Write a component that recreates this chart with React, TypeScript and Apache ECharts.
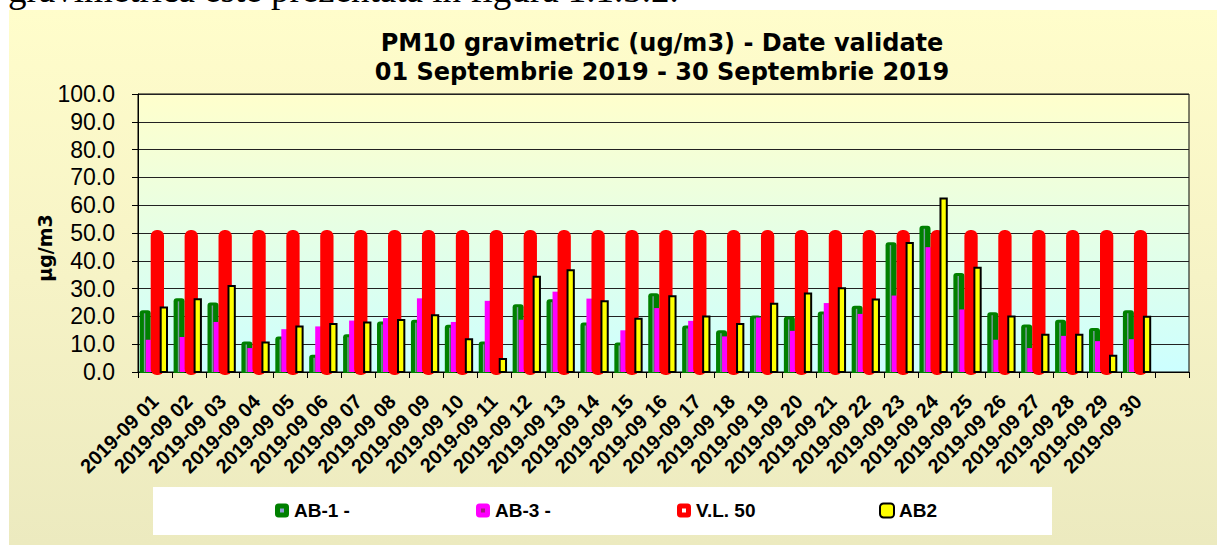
import React, { useEffect, useRef } from "react";
import * as echarts from "echarts";

const categories = [
  "2019-09 01", "2019-09 02", "2019-09 03", "2019-09 04", "2019-09 05",
  "2019-09 06", "2019-09 07", "2019-09 08", "2019-09 09", "2019-09 10",
  "2019-09 11", "2019-09 12", "2019-09 13", "2019-09 14", "2019-09 15",
  "2019-09 16", "2019-09 17", "2019-09 18", "2019-09 19", "2019-09 20",
  "2019-09 21", "2019-09 22", "2019-09 23", "2019-09 24", "2019-09 25",
  "2019-09 26", "2019-09 27", "2019-09 28", "2019-09 29", "2019-09 30",
  "",
];

const ab1 = [22.2, 26.5, 25.0, 11.0, 12.8, 6.2, 13.6, 18.2, 18.8, 17.0, 11.0, 24.4, 26.2, 17.8, 10.6, 28.3, 16.7, 15.0, 20.3, 20.0, 21.8, 23.8, 46.7, 52.6, 35.6, 21.5, 17.1, 18.8, 15.8, 22.2];
const ab3 = [11.6, 12.6, 18.0, 8.6, 15.4, 16.4, 18.5, 19.4, 26.5, 18.0, 25.6, 18.8, 28.9, 26.4, 15.0, 23.0, 18.4, 12.8, 19.6, 14.8, 24.8, 20.9, 27.5, 44.9, 22.5, 11.6, 8.6, 13.0, 11.1, 11.8];
const vl50 = [50, 50, 50, 50, 50, 50, 50, 50, 50, 50, 50, 50, 50, 50, 50, 50, 50, 50, 50, 50, 50, 50, 50, 50, 50, 50, 50, 50, 50, 50];
const ab2 = [23.6, 26.5, 31.3, 11.0, 16.7, 17.6, 18.2, 19.1, 20.8, 12.1, 5.0, 34.6, 37.0, 25.8, 19.5, 27.6, 20.3, 17.6, 24.9, 28.6, 30.5, 26.4, 46.8, 62.8, 37.9, 20.3, 13.8, 13.8, 6.2, 20.2];

const seriesNames = ["AB-1 -", "AB-3 -", "V.L. 50", "AB2"];
const titleLines = ["PM10 gravimetric (ug/m3) - Date validate", "01 Septembrie 2019 - 30 Septembrie 2019"];
const yAxisName = "µg/m3";
const introText = "gravimetrică este prezentată în figura 1.1.3.2.";

const toData = (arr: number[]) => arr.map((v, i) => [i, v]);

function geom(api: any, fracStart: number, fracWidth: number) {
  const i = api.value(0);
  const v = api.value(1);
  const base = api.coord([i, 0]);
  const top = api.coord([i, v]);
  const band = api.size([1, 0])[0];
  const x = base[0] - band / 2 + band * fracStart;
  return { x, w: band * fracWidth, top: top[1], base: base[1] };
}

const renderGreen = (_p: any, api: any) => {
  const g = geom(api, 0.05, 0.325);
  const h = g.base - g.top;
  const children: any[] = [
    { type: "rect", shape: { x: g.x, y: g.top, width: g.w, height: h + 1, r: [3, 3, 0, 0] }, style: { fill: "#008000" } },
  ];
  if (h > 4) {
    children.push({ type: "rect", shape: { x: g.x + g.w * 0.38, y: g.top + 3, width: 1.4, height: h - 3 }, style: { fill: "#7a9e9e" } });
  }
  return { type: "group", children };
};

const renderPink = (_p: any, api: any) => {
  const g = geom(api, 0.227, 0.19);
  return { type: "rect", shape: { x: g.x, y: g.top, width: g.w, height: g.base - g.top }, style: { fill: "#FF00FF" } };
};

const renderRed = (_p: any, api: any) => {
  const g = geom(api, 0.375, 0.392);
  return { type: "rect", shape: { x: g.x, y: g.top - 3, width: g.w, height: g.base - g.top + 6, r: 6 }, style: { fill: "#FF0000" } };
};

const renderYellow = (_p: any, api: any) => {
  const g = geom(api, 0.64, 0.245);
  return { type: "rect", shape: { x: g.x + 1, y: g.top + 1, width: g.w - 2, height: g.base - g.top - 1 }, style: { fill: "#FFFF00", stroke: "#000000", lineWidth: 2 } };
};

const legendX = [275, 476, 677, 879];
const legendTop = 501;
const legendItemStyles: any[] = [
  { color: "#008000" },
  { color: "#FF00FF" },
  { color: "#FF0000" },
  { color: "#FFFF00", borderColor: "#000000", borderWidth: 2 },
];
const legendDots = ["#8c9bd4", "#a0207a", "#ffffff", null];

export default function App() {
  const ref = useRef<HTMLDivElement>(null);
  useEffect(() => {
    if (!ref.current) return;
    const chart = echarts.init(ref.current, undefined, { renderer: "svg" });
    const font = "Liberation Sans";
    const seriesData = [ab1, ab3, vl50, ab2];
    const renders = [renderGreen, renderPink, renderRed, renderYellow];
    const colors = ["#008000", "#FF00FF", "#FF0000", "#FFFF00"];
    const graphics: any[] = [
      {
        type: "text", x: 8, y: -11, z: 100,
        style: { text: introText, fontFamily: "Liberation Serif", fontSize: 37, fill: "#000", verticalAlign: "middle", align: "left" },
      },
      {
        type: "text", x: 44.5, y: 248, rotation: Math.PI / 2, z: 100,
        style: { text: yAxisName, fontFamily: "DejaVu Sans", fontWeight: "bold", fontSize: 19, fill: "#000", align: "center", verticalAlign: "middle" },
      },
    ];
    legendDots.forEach((c, k) => {
      if (c) graphics.push({ type: "rect", z: 100, shape: { x: legendX[k] + 5, y: legendTop + 2.5 + 5, width: 4, height: 4 }, style: { fill: c } });
    });
    chart.setOption({
      animation: false,
      backgroundColor: "transparent",
      title: titleLines.map((t, k) => ({
        text: t,
        left: 662,
        textAlign: "center",
        top: 30 + k * 29,
        padding: 0,
        textStyle: { fontFamily: "DejaVu Sans", fontWeight: "bold", fontSize: 24, lineHeight: 26, color: "#000" },
      })),
      legend: seriesNames.map((n, k) => ({
        data: [{ name: n, icon: "roundRect", itemStyle: legendItemStyles[k] }],
        left: legendX[k],
        top: legendTop,
        padding: 0,
        itemWidth: 14,
        itemHeight: 14,
        selectedMode: false,
        textStyle: { fontFamily: font, fontWeight: "bold", fontSize: 19, color: "#000" },
      })),
      grid: {
        left: 138, top: 94, width: 1051, height: 278,
        show: true,
        backgroundColor: { type: "linear", x: 0, y: 0, x2: 0, y2: 1, colorStops: [{ offset: 0, color: "#FFFFCC" }, { offset: 1, color: "#CCFFFF" }] },
        borderColor: "#000", borderWidth: 1,
      },
      xAxis: {
        type: "category",
        data: categories,
        boundaryGap: true,
        axisLine: { show: true, lineStyle: { color: "#000", width: 1 } },
        axisTick: { show: true, length: 6, interval: 0, lineStyle: { color: "#000" } },
        axisLabel: { interval: 0, rotate: 45, margin: 26, fontFamily: font, fontWeight: "bold", fontSize: 20, color: "#000" },
        splitLine: { show: false },
      },
      yAxis: {
        type: "value", min: 0, max: 100, interval: 10,
        axisLine: { show: true, lineStyle: { color: "#000", width: 1 } },
        axisTick: { show: true, length: 6, lineStyle: { color: "#000" } },
        axisLabel: { margin: 23, fontFamily: font, fontSize: 23, color: "#000", formatter: (v: number) => v.toFixed(1) },
        splitLine: { show: true, lineStyle: { color: "#222", width: 1 } },
      },
      graphic: graphics,
      series: seriesNames.map((n, k) => ({
        type: "custom",
        name: n,
        data: toData(seriesData[k]),
        encode: { x: 0, y: 1 },
        itemStyle: { color: colors[k] },
        renderItem: renders[k],
        z: 2 + k,
      })),
    });
    return () => chart.dispose();
  }, []);
  return (
    <div style={{ position: "absolute", left: 0, top: 0, width: 1217, height: 545, background: "#fff" }}>
      <div style={{ position: "absolute", left: 9, top: 10, width: 1208, height: 535, background: "linear-gradient(to bottom, #FFFDCB 0%, #F6F3C6 50%, #ECEABF 100%)" }} />
      <div style={{ position: "absolute", left: 153, top: 487, width: 899, height: 48, background: "#fff" }} />
      <div ref={ref} style={{ position: "absolute", left: 0, top: 0, width: 1217, height: 545 }} />
    </div>
  );
}
